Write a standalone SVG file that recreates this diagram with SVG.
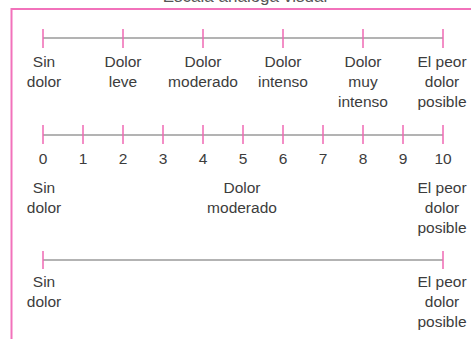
<svg xmlns="http://www.w3.org/2000/svg" width="471" height="339" viewBox="0 0 471 339">
<style>
.frame{fill:none;stroke:#f272bb;stroke-width:2}
.axis{stroke:#b3b3b3;stroke-width:2}
.tick{stroke:#f06ab4;stroke-width:1.5}
text{font-family:"Liberation Sans",Arial,sans-serif;font-size:15.5px;fill:#3c3c3c;text-anchor:middle}
.title{font-size:17px;fill:#555}
</style>
<rect width="471" height="339" fill="#fff"/>
<text class="title" x="245" y="1.5">Escala análoga visual</text>
<path class="frame" d="M11.5 339 V9 H471"/>
<g id="connectors">
<line class="axis" x1="43" y1="38" x2="443" y2="38"/>
<line class="axis" x1="43" y1="135" x2="443" y2="135"/>
<line class="axis" x1="43" y1="260" x2="443" y2="260"/>
</g>
<g id="scale1">
<path class="tick" d="M43 29V48M123 29V48M203 29V48M283 29V48M363 29V48M443 29V48"/>
<text x="44" y="67">Sin</text><text x="44" y="87">dolor</text>
<text x="123" y="67">Dolor</text><text x="123" y="87">leve</text>
<text x="203" y="67">Dolor</text><text x="203" y="87">moderado</text>
<text x="283" y="67">Dolor</text><text x="283" y="87">intenso</text>
<text x="363" y="67">Dolor</text><text x="363" y="87">muy</text><text x="363" y="107">intenso</text>
<text x="442" y="67">El peor</text><text x="442" y="87">dolor</text><text x="442" y="107">posible</text>
</g>
<g id="scale2">
<path class="tick" d="M43 125V144M83 125V144M123 125V144M163 125V144M203 125V144M243 125V144M283 125V144M323 125V144M363 125V144M403 125V144M443 125V144"/>
<text x="43" y="164">0</text><text x="83" y="164">1</text><text x="123" y="164">2</text><text x="163" y="164">3</text><text x="203" y="164">4</text><text x="243" y="164">5</text><text x="283" y="164">6</text><text x="323" y="164">7</text><text x="363" y="164">8</text><text x="403" y="164">9</text><text x="443" y="164">10</text>
<text x="44" y="193">Sin</text><text x="44" y="213">dolor</text>
<text x="242" y="193">Dolor</text><text x="242" y="213">moderado</text>
<text x="442" y="193">El peor</text><text x="442" y="213">dolor</text><text x="442" y="233">posible</text>
</g>
<g id="scale3">
<path class="tick" d="M43 251V269M443 251V269"/>
<text x="44" y="287">Sin</text><text x="44" y="307">dolor</text>
<text x="442" y="287">El peor</text><text x="442" y="307">dolor</text><text x="442" y="327">posible</text>
</g>
</svg>
